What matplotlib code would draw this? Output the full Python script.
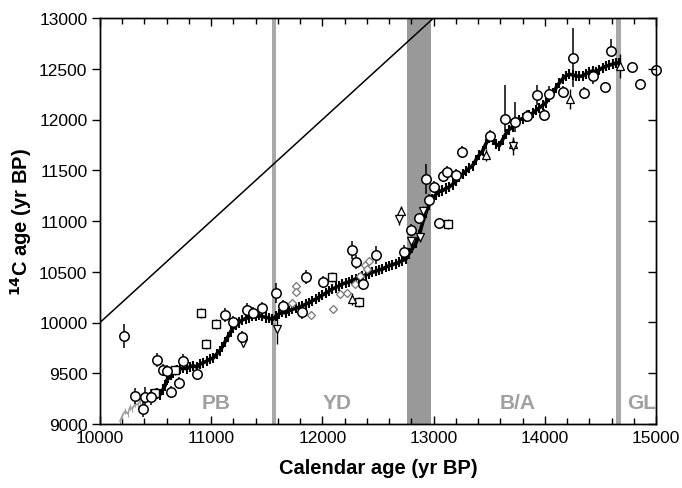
import matplotlib
matplotlib.use('Agg')
import matplotlib.pyplot as plt
from matplotlib.ticker import MultipleLocator

plt.rcParams['font.family'] = ['Liberation Sans', 'DejaVu Sans']

# ---------------- data ----------------
# grey curve (young end)
gray_cal = [10180, 10200, 10225, 10250, 10270, 10290, 10315, 10340, 10360, 10385, 10405, 10430, 10450]
gray_c14 = [9030, 9080, 9128, 9100, 9167, 9150, 9197, 9190, 9227, 9240, 9266, 9270, 9286]

# dense black record
dense_cal = [10450, 10480, 10510, 10540, 10565, 10585, 10600, 10615, 10635, 10660, 10690, 10720, 10750,
             10780, 10810, 10840, 10870, 10900, 10930, 10960, 10990, 11020, 11050, 11075, 11100, 11125,
             11150, 11175, 11200, 11225, 11250, 11280, 11310, 11340, 11370, 11400, 11430, 11460, 11490,
             11520, 11550, 11580, 11610, 11640, 11670, 11700, 11730, 11760, 11790, 11820, 11850, 11880,
             11910, 11940, 11970, 12000, 12030, 12060, 12090, 12120, 12150, 12180, 12210, 12240, 12270,
             12300, 12330, 12360, 12390, 12420, 12450, 12480, 12510, 12540, 12570, 12600, 12630, 12660,
             12690, 12720, 12750, 12780, 12810, 12840, 12870, 12900, 12930, 12960, 12990, 13020, 13050,
             13080, 13110, 13140, 13170, 13200, 13230, 13260, 13290, 13320, 13350, 13380, 13410, 13440,
             13470, 13500, 13530, 13560, 13590, 13620, 13650, 13680, 13710, 13740, 13770, 13800, 13830,
             13860, 13890, 13920, 13950, 13980, 14010, 14040, 14070, 14100, 14130, 14160, 14190, 14220,
             14250, 14280, 14310, 14340, 14370, 14400, 14430, 14460, 14490, 14520, 14550, 14580, 14610,
             14640, 14670]
dense_c14 = [9270, 9285, 9300, 9290, 9340, 9380, 9430, 9450, 9480, 9500, 9530, 9540, 9550,
             9545, 9565, 9575, 9560, 9590, 9605, 9620, 9640, 9650, 9690, 9720, 9760, 9810,
             9860, 9910, 9950, 9975, 10000, 10025, 10040, 10050, 10065, 10060, 10070, 10060, 10050,
             10045, 10030, 10060, 10085, 10100, 10095, 10115, 10130, 10140, 10150, 10165, 10180, 10195,
             10215, 10230, 10250, 10270, 10290, 10310, 10330, 10345, 10360, 10380, 10390, 10400, 10415,
             10430, 10440, 10455, 10470, 10480, 10495, 10505, 10520, 10525, 10545, 10560, 10570, 10580,
             10595, 10610, 10625, 10680, 10730, 10780, 10860, 10980, 11080, 11160, 11220, 11260, 11290,
             11300, 11320, 11335, 11360, 11390, 11430, 11460, 11490, 11520, 11545, 11600, 11650, 11690,
             11760, 11820, 11800, 11760, 11740, 11800, 11860, 11900, 11930, 11970, 11995, 12010, 12025,
             12045, 12060, 12090, 12115, 12140, 12165, 12220, 12260, 12310, 12360, 12400, 12430, 12445,
             12440, 12430, 12425, 12430, 12450, 12465, 12480, 12470, 12490, 12510, 12525, 12535, 12545,
             12555, 12560]

# open circles
circ_cal = [10216, 10315, 10387, 10405, 10459, 10513, 10567, 10603, 10639, 10710, 10746, 10872, 11124,
            11196, 11277, 11322, 11376, 11457, 11583, 11646, 11817, 11853, 12005, 12266, 12302, 12482,
            12365, 12734, 12797, 12869, 12932, 12959, 13004, 13049, 13085, 13121, 13201, 13255, 13507,
            13642, 13732, 13840, 13930, 13993, 14038, 14164, 14254, 14353, 14434, 14541, 14595, 14784,
            14856, 15000]
circ_c14 = [9867, 9276, 9148, 9266, 9266, 9631, 9532, 9522, 9315, 9404, 9621, 9493, 10074,
            10005, 9857, 10123, 10094, 10143, 10291, 10163, 10103, 10448, 10399, 10714, 10596, 10665,
            10379, 10694, 10911, 11030, 11414, 11207, 11335, 10980, 11443, 11483, 11453, 11680, 11837,
            12005, 11975, 12034, 12241, 12044, 12251, 12271, 12606, 12261, 12428, 12320, 12675, 12517,
            12350, 12488]
circ_err_lo = [120, 80, 80, 100, 80, 70, 60, 60, 60, 60, 70, 60, 70,
               60, 60, 70, 60, 60, 100, 60, 70, 70, 60, 90, 70, 90,
               60, 70, 60, 40, 150, 60, 60, 40, 60, 60, 60, 60, 60,
               130, 100, 60, 100, 60, 80, 60, 290, 60, 80, 50, 50, 50,
               50, 40]
circ_err_hi = [120, 80, 80, 100, 80, 70, 60, 60, 60, 60, 70, 60, 70,
               60, 60, 70, 60, 60, 100, 60, 70, 70, 60, 90, 70, 90,
               60, 70, 60, 40, 150, 60, 60, 40, 60, 60, 60, 60, 60,
               330, 200, 60, 100, 60, 80, 60, 300, 60, 80, 50, 120, 50,
               50, 40]

# open squares
sq_cal = [10495, 10675, 10908, 11043, 10953, 12329, 13130, 12086]
sq_c14 = [9305, 9532, 10094, 9985, 9788, 10202, 10970, 10448]

# grey diamonds
dia_cal = [11763, 11763, 11727, 11898, 12095, 12158, 12221, 12338, 12383, 12419, 12401, 12293]
dia_c14 = [10360, 10300, 10192, 10074, 10133, 10281, 10291, 10458, 10567, 10606, 10527, 10379]

# triangles up
tup_cal = [12266, 13471, 14227, 14676, 12707, 13714]
tup_c14 = [10232, 11650, 12202, 12527, 11098, 11760]
tup_err = [60, 60, 100, 120, 50, 60]

# triangles down
tdn_cal = [11286, 11592, 12797, 12878, 12905, 12689, 13714]
tdn_c14 = [9798, 9936, 10803, 10843, 11098, 11020, 11739]
tdn_err = [40, 150, 50, 50, 50, 60, 90]

# period labels
period_names = ['PB', 'YD', 'B/A', 'GL']
period_cal = [11043, 12131, 13755, 14874]

# ---------------- plot ----------------
fig = plt.figure(figsize=(6.82, 4.89), dpi=100)
ax = fig.add_axes([100 / 682, 1 - 425 / 489, 556 / 682, 406 / 489])

ax.axvspan(11543, 11587, color='#a8a8a8', lw=0, zorder=0)
ax.axvspan(12765, 12975, color='#999999', lw=0, zorder=0)
ax.axvspan(14638, 14687, color='#a8a8a8', lw=0, zorder=0)

ax.plot([10000, 13000], [10000, 13000], color='black', lw=1.1, zorder=1)

ax.plot(gray_cal, gray_c14, color='#a0a0a0', lw=1.2, zorder=2)
ax.errorbar(gray_cal, gray_c14, yerr=30, fmt='none', ecolor='#a0a0a0', elinewidth=0.8, zorder=2)

ax.plot(dense_cal, dense_c14, color='black', lw=2.6, zorder=3)
ax.errorbar(dense_cal, dense_c14, yerr=50, fmt='none', ecolor='black', elinewidth=1.5, zorder=3)

ax.errorbar(dia_cal, dia_c14, yerr=30, fmt='D', ms=4.5, mfc='white', mec='#777777', mew=0.9,
            ecolor='#777777', elinewidth=0.8, zorder=4)
ax.errorbar(sq_cal, sq_c14, yerr=50, fmt='s', ms=5.5, mfc='white', mec='black', mew=1.0,
            ecolor='black', elinewidth=1.0, zorder=5)
ax.errorbar(tup_cal, tup_c14, yerr=tup_err, fmt='^', ms=5.5, mfc='white', mec='black', mew=0.9,
            ecolor='black', elinewidth=1.0, zorder=5)
ax.errorbar(tdn_cal, tdn_c14, yerr=tdn_err, fmt='v', ms=5.5, mfc='white', mec='black', mew=0.9,
            ecolor='black', elinewidth=1.0, zorder=5)
ax.errorbar(circ_cal, circ_c14, yerr=[circ_err_lo, circ_err_hi], fmt='o', ms=6.8, mfc='white',
            mec='black', mew=1.1, ecolor='black', elinewidth=1.1, zorder=6, clip_on=False)

for name, xc in zip(period_names, period_cal):
    ax.text(xc, 9215, name, ha='center', va='center', fontsize=15, fontweight='bold',
            color='#a0a0a0', zorder=7)

ax.set_xlim(10000, 15000)
ax.set_ylim(9000, 13000)
ax.xaxis.set_major_locator(MultipleLocator(1000))
ax.xaxis.set_minor_locator(MultipleLocator(200))
ax.yaxis.set_major_locator(MultipleLocator(500))

ax.tick_params(axis='x', which='both', direction='in', top=True, bottom=True, labelsize=12.5, pad=4)
ax.tick_params(axis='x', which='major', length=6, width=1)
ax.tick_params(axis='x', which='minor', length=4, width=1)
ax.tick_params(axis='y', which='major', direction='out', left=True, right=False, length=6, width=1,
               labelsize=12.5, pad=3)

ax2 = ax.twinx()
ax2.set_ylim(9000, 13000)
ax2.yaxis.set_major_locator(MultipleLocator(500))
ax2.tick_params(axis='y', direction='in', length=6, width=1, labelright=False)

for a in (ax, ax2):
    for s in a.spines.values():
        s.set_linewidth(1.0)

ax.set_xlabel('Calendar age (yr BP)', fontsize=14.5, fontweight='bold', labelpad=10)
ax.set_ylabel('$\\mathbf{^{14}}$C age (yr BP)', fontsize=14.5, fontweight='bold', labelpad=4)

fig.savefig('out.png', dpi=100)
